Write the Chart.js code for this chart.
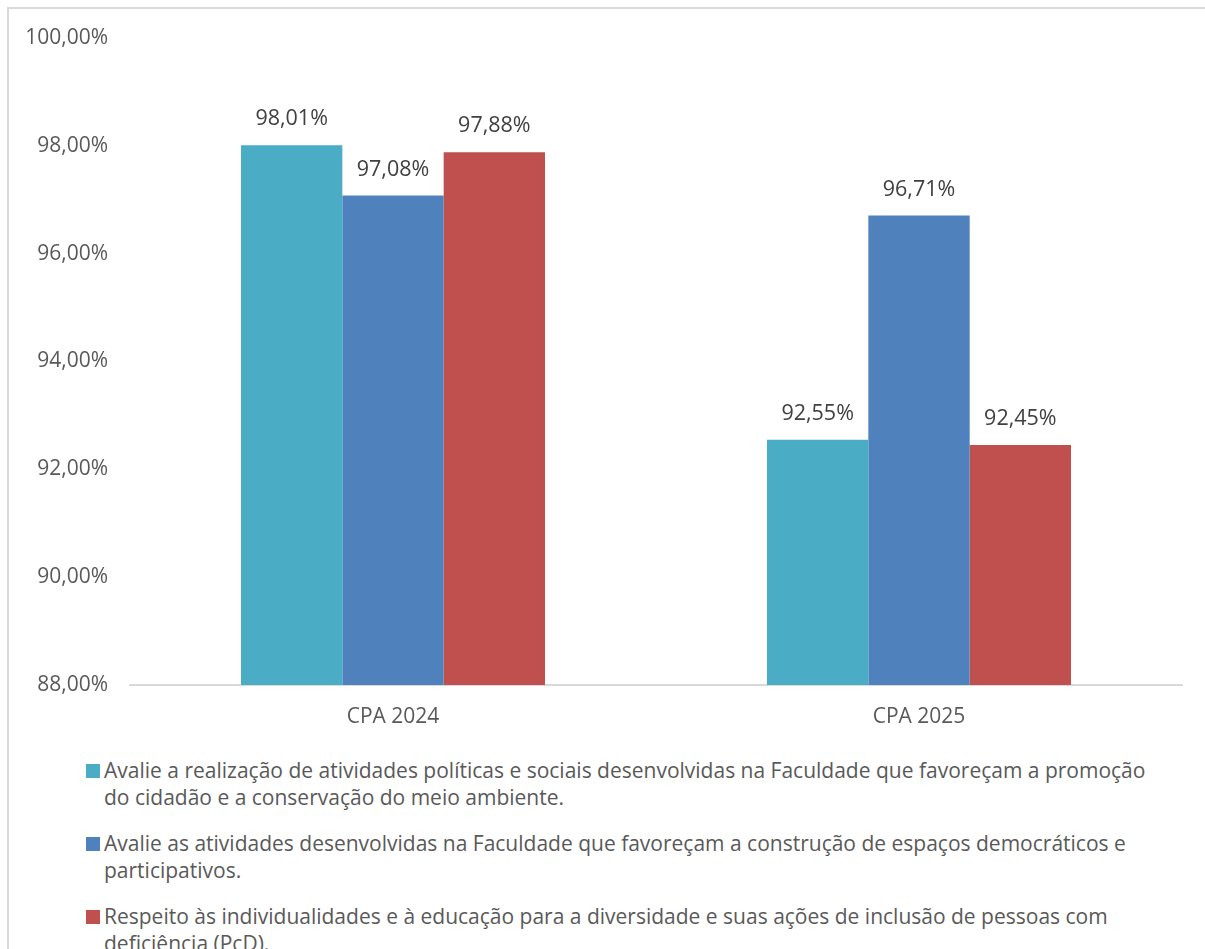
<!DOCTYPE html>
<html>
<head>
<meta charset="utf-8">
<script src="https://cdn.jsdelivr.net/npm/chart.js@4.4.1/dist/chart.umd.min.js"></script>
<style>
  html, body { margin: 0; padding: 0; background: #fff; overflow: hidden; }
  #frame { position: absolute; left: 7px; top: 7px; width: 1300px; height: 1100px; border: 2px solid #d9d9d9; box-sizing: border-box; }
  #wrap { position: absolute; left: 0; top: 0; width: 1205px; height: 740px; }
  #legend { position: absolute; left: 86px; top: 757px; width: 1069px; font-family: "Open Sans", sans-serif; font-size: 21px; color: #595959; line-height: 27px; }
  .item { position: relative; padding-left: 18px; margin-bottom: 19px; }
  .sw { position: absolute; left: 0; top: 7px; width: 14px; height: 14px; }
</style>
</head>
<body>
<div id="frame"></div>
<div id="wrap"><canvas id="c" width="1205" height="740"></canvas></div>
<div id="legend"></div>
<script>
const categories = ["CPA 2024", "CPA 2025"];
const seriesLabels = [
  "Avalie a realização de atividades políticas e sociais desenvolvidas na Faculdade que favoreçam a promoção do cidadão e a conservação do meio ambiente.",
  "Avalie as atividades desenvolvidas na Faculdade que favoreçam a construção de espaços democráticos e participativos.",
  "Respeito às individualidades e à educação para a diversidade e suas ações de inclusão de pessoas com deficiência (PcD)."
];
const series1 = [98.01, 92.55];
const series2 = [97.08, 96.71];
const series3 = [97.88, 92.45];
const seriesColors = ["#4BACC6", "#4F81BD", "#C0504D"];
const yTicks = [88, 90, 92, 94, 96, 98, 100];

const fmt = v => v.toFixed(2).replace('.', ',') + '%';
const FONT = '"Open Sans", sans-serif';

const labelPlugin = {
  id: 'valLabels',
  afterDatasetsDraw(chart) {
    const ctx = chart.ctx;
    ctx.save();
    ctx.font = '21.5px ' + FONT;
    ctx.fillStyle = '#404040';
    ctx.textAlign = 'center';
    ctx.textBaseline = 'middle';
    chart.data.datasets.forEach((ds, i) => {
      chart.getDatasetMeta(i).data.forEach((bar, j) => {
        ctx.fillText(fmt(ds.data[j]), bar.x, bar.y - 26);
      });
    });
    ctx.restore();
  }
};

const allSeries = [series1, series2, series3];
const chart = new Chart(document.getElementById('c'), {
  type: 'bar',
  data: {
    labels: categories,
    datasets: allSeries.map((d, i) => ({
      label: seriesLabels[i],
      data: d,
      backgroundColor: seriesColors[i],
      borderWidth: 0,
      categoryPercentage: 0.578,
      barPercentage: 1.0
    }))
  },
  options: {
    responsive: false,
    animation: false,
    devicePixelRatio: 1,
    layout: { padding: { top: 38, right: 23, left: 0, bottom: 0 } },
    plugins: { legend: { display: false }, tooltip: { enabled: false } },
    scales: {
      x: {
        grid: { display: false, drawTicks: false },
        border: { display: true, color: '#d9d9d9', width: 2 },
        ticks: { color: '#595959', font: { family: FONT, size: 21 }, padding: 19 },
        afterFit: s => { s.height = 55; }
      },
      y: {
        min: 88, max: 100,
        afterBuildTicks: s => { s.ticks = yTicks.map(v => ({ value: v })); },
        grid: { display: false, drawTicks: false },
        border: { display: false },
        ticks: { color: '#595959', font: { family: FONT, size: 21 }, padding: 22, callback: v => fmt(v) },
        afterFit: s => { s.width = 130; }
      }
    }
  },
  plugins: [labelPlugin]
});

const lg = document.getElementById('legend');
seriesLabels.forEach((t, i) => {
  const d = document.createElement('div');
  d.className = 'item';
  const sw = document.createElement('span');
  sw.className = 'sw';
  sw.style.background = seriesColors[i];
  d.appendChild(sw);
  d.appendChild(document.createTextNode(t));
  lg.appendChild(d);
});
</script>
</body>
</html>
